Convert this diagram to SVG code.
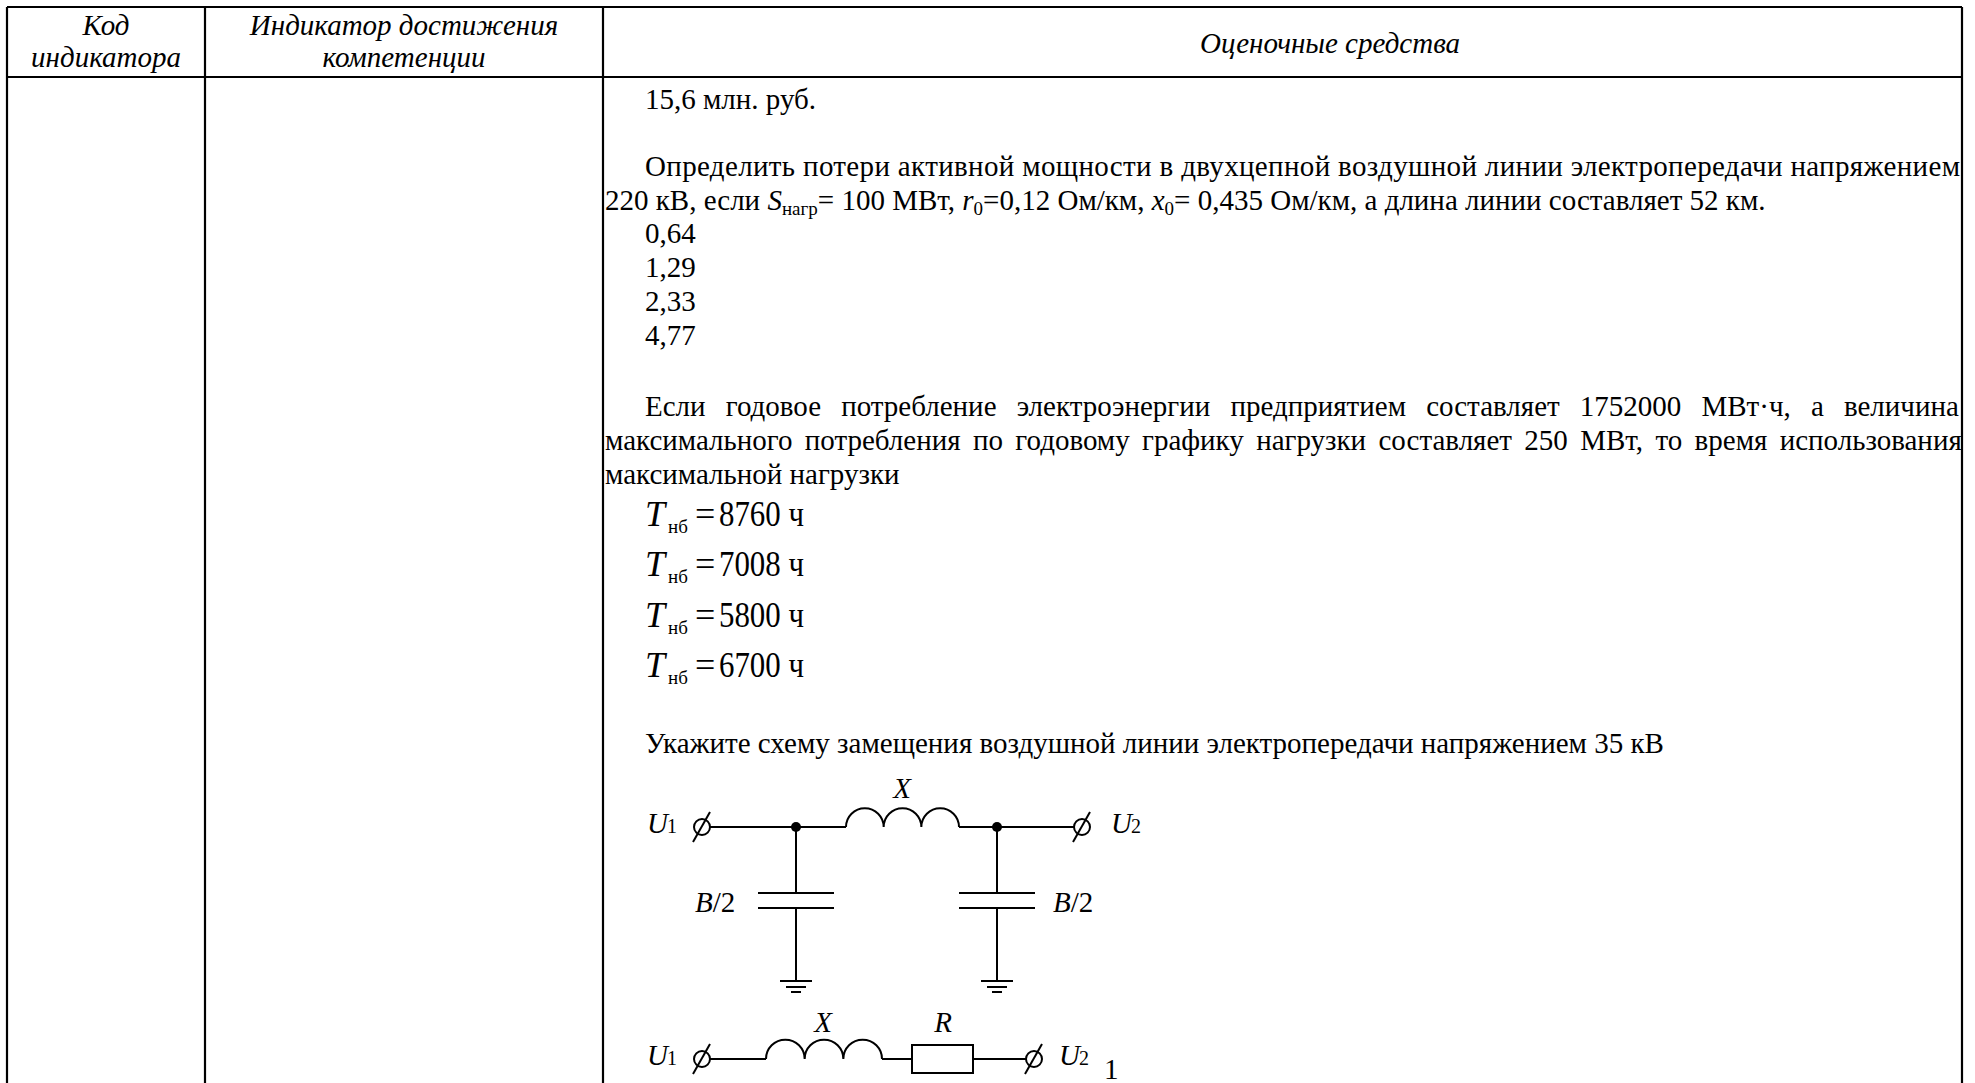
<svg xmlns="http://www.w3.org/2000/svg" width="1975" height="1083" viewBox="0 0 1975 1083">
<style>
.t{font-family:"Liberation Serif","Times New Roman","DejaVu Serif",serif;font-size:29px;fill:#000}
.i{font-style:italic}
.c{text-anchor:middle}
.big{font-size:36px}
.sub{font-size:19px}
.s20{font-size:20px}
.ln{stroke:#000;stroke-width:2;fill:none}
.tb{stroke:#000;stroke-width:2.2;fill:none}
.term{stroke:#000;stroke-width:2;fill:#fff}
.dot{fill:#000}
</style>
<defs>
<g id="terminal"><circle class="term" cx="0" cy="0" r="8"/><line class="ln" x1="-9" y1="15" x2="8" y2="-15"/></g>
<g id="ground"><line class="ln" x1="-16" y1="0" x2="16" y2="0"/><line class="ln" x1="-10" y1="6" x2="10" y2="6"/><line class="ln" x1="-5" y1="11" x2="5" y2="11"/></g>
</defs>
<rect width="1975" height="1083" fill="#fff"/>
<g id="table">
<line class="tb" x1="7" y1="7" x2="1962" y2="7"/>
<line class="tb" x1="7" y1="77" x2="1962" y2="77"/>
<line class="tb" x1="7" y1="7" x2="7" y2="1083"/>
<line class="tb" x1="205" y1="7" x2="205" y2="1083"/>
<line class="tb" x1="603" y1="7" x2="603" y2="1083"/>
<line class="tb" x1="1962" y1="7" x2="1962" y2="1083"/>
</g>
<g id="header">
<text class="t i c" x="106" y="35">Код</text>
<text class="t i c" x="106" y="67">индикатора</text>
<text class="t i c" x="404" y="35">Индикатор достижения</text>
<text class="t i c" x="404" y="67">компетенции</text>
<text class="t i c" x="1330" y="53">Оценочные средства</text>
</g>
<g id="q1">
<text class="t" x="645" y="109">15,6 млн. руб.</text>
</g>
<g id="q2">
<text class="t" x="645" y="176" textLength="1315" lengthAdjust="spacing">Определить потери активной мощности в двухцепной воздушной линии электропередачи напряжением</text>
<text class="t" x="605" y="210">220 кВ, если <tspan class="i">S</tspan><tspan class="sub" dy="5">нагр</tspan><tspan dy="-5">= 100 МВт, </tspan><tspan class="i">r</tspan><tspan class="sub" dy="5">0</tspan><tspan dy="-5">=0,12 Ом/км, </tspan><tspan class="i">x</tspan><tspan class="sub" dy="5">0</tspan><tspan dy="-5">= 0,435 Ом/км, а длина линии составляет 52 км.</tspan></text>
<text class="t" x="645" y="243">0,64</text>
<text class="t" x="645" y="277">1,29</text>
<text class="t" x="645" y="311">2,33</text>
<text class="t" x="645" y="345">4,77</text>
</g>
<g id="q3">
<text class="t" x="645" y="416" word-spacing="12.9">Если годовое потребление электроэнергии предприятием составляет 1752000 МВт·ч, а величина</text>
<text class="t" x="605" y="450" word-spacing="5.1">максимального потребления по годовому графику нагрузки составляет 250 МВт, то время использования</text>
<text class="t" x="605" y="484">максимальной нагрузки</text>
<g id="ans1"><text class="t i big" x="645" y="526">T</text><text class="t sub" x="668" y="533">нб</text><text class="t big" x="695" y="526">=</text><text class="t big" x="719" y="526" textLength="85" lengthAdjust="spacingAndGlyphs">8760 ч</text></g>
<g id="ans2"><text class="t i big" x="645" y="576">T</text><text class="t sub" x="668" y="583">нб</text><text class="t big" x="695" y="576">=</text><text class="t big" x="719" y="576" textLength="85" lengthAdjust="spacingAndGlyphs">7008 ч</text></g>
<g id="ans3"><text class="t i big" x="645" y="627">T</text><text class="t sub" x="668" y="634">нб</text><text class="t big" x="695" y="627">=</text><text class="t big" x="719" y="627" textLength="85" lengthAdjust="spacingAndGlyphs">5800 ч</text></g>
<g id="ans4"><text class="t i big" x="645" y="677">T</text><text class="t sub" x="668" y="684">нб</text><text class="t big" x="695" y="677">=</text><text class="t big" x="719" y="677" textLength="85" lengthAdjust="spacingAndGlyphs">6700 ч</text></g>
</g>
<g id="q4">
<text class="t" x="645" y="753">Укажите схему замещения воздушной линии электропередачи напряжением 35 кВ</text>
</g>
<g id="connectors">
<line class="ln" x1="710" y1="827" x2="846" y2="827"/>
<path class="ln" d="M846,827 a18.83,18.83 0 0 1 37.67,0 a18.83,18.83 0 0 1 37.67,0 a18.83,18.83 0 0 1 37.67,0"/>
<line class="ln" x1="959" y1="827" x2="1074" y2="827"/>
<line class="ln" x1="796" y1="827" x2="796" y2="893"/>
<line class="ln" x1="796" y1="908" x2="796" y2="981"/>
<line class="ln" x1="997" y1="827" x2="997" y2="893"/>
<line class="ln" x1="997" y1="908" x2="997" y2="981"/>
<line class="ln" x1="710" y1="1059" x2="766" y2="1059"/>
<path class="ln" d="M766,1059 a19.33,19.33 0 0 1 38.67,0 a19.33,19.33 0 0 1 38.67,0 a19.33,19.33 0 0 1 38.67,0"/>
<line class="ln" x1="882" y1="1059" x2="912" y2="1059"/>
<line class="ln" x1="973" y1="1059" x2="1026" y2="1059"/>
</g>
<g id="circuit1">
<g id="c1-u1"><text class="t i" x="647" y="833">U</text><text class="t s20" x="667" y="833">1</text><use href="#terminal" x="702" y="827"/></g>
<g id="c1-n1"><circle class="dot" cx="796" cy="827" r="5"/></g>
<g id="c1-x"><text class="t i c" x="902" y="798">X</text></g>
<g id="c1-n2"><circle class="dot" cx="997" cy="827" r="5"/></g>
<g id="c1-u2"><use href="#terminal" x="1082" y="827"/><text class="t i" x="1111" y="833">U</text><text class="t s20" x="1131" y="833">2</text></g>
<g id="c1-cap1"><line class="ln" x1="758" y1="893" x2="834" y2="893"/><line class="ln" x1="758" y1="908" x2="834" y2="908"/><text class="t" x="695" y="912"><tspan class="i">B</tspan>/2</text></g>
<g id="c1-cap2"><line class="ln" x1="959" y1="893" x2="1035" y2="893"/><line class="ln" x1="959" y1="908" x2="1035" y2="908"/><text class="t" x="1053" y="912"><tspan class="i">B</tspan>/2</text></g>
<g id="c1-g1"><use href="#ground" x="796" y="981"/></g>
<g id="c1-g2"><use href="#ground" x="997" y="981"/></g>
</g>
<g id="circuit2">
<g id="c2-u1"><text class="t i" x="647" y="1065">U</text><text class="t s20" x="667" y="1065">1</text><use href="#terminal" x="702" y="1059"/></g>
<g id="c2-x"><text class="t i c" x="823" y="1032">X</text></g>
<g id="c2-r"><rect class="ln" x="912" y="1045" width="61" height="28"/><text class="t i c" x="943" y="1032">R</text></g>
<g id="c2-u2"><use href="#terminal" x="1034" y="1059"/><text class="t i" x="1059" y="1065">U</text><text class="t s20" x="1079" y="1065">2</text><text class="t" x="1104" y="1079">1</text></g>
</g>
</svg>
